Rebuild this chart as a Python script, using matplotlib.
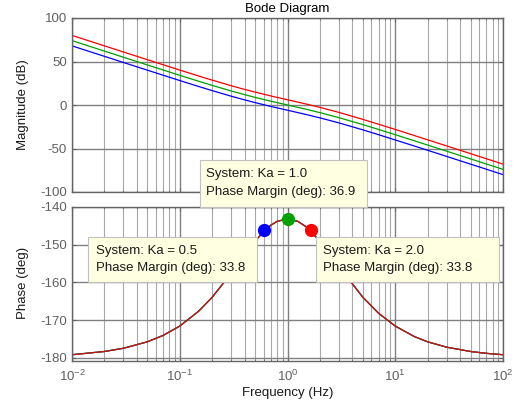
import numpy as np
import matplotlib.pyplot as plt
from matplotlib.patches import Rectangle
from matplotlib.ticker import LogLocator, NullFormatter

plt.rcParams['font.family'] = ['Liberation Sans', 'DejaVu Sans']
plt.rcParams['font.size'] = 9.5
plt.rcParams['axes.unicode_minus'] = False
plt.rcParams['mathtext.fontset'] = 'custom'
plt.rcParams['mathtext.rm'] = 'Liberation Sans'
plt.rcParams['mathtext.it'] = 'Liberation Sans:italic'

# Frequency points (Hz) and magnitude (dB)
freq = [0.01, 0.02, 0.03, 0.05, 0.07, 0.1, 0.15, 0.2, 0.3, 0.4, 0.5, 0.7,
        1.0, 1.5, 2.0, 3.0, 5.0, 7.0, 10.0, 15.0, 20.0, 30.0, 50.0, 70.0, 100.0]
mag_05 = [67.96, 55.93, 48.89, 40.04, 34.24, 28.12, 21.27, 16.52, 10.12, 5.86,
          2.75, -1.63, -6.02, -11.02, -14.79, -20.56, -28.56, -34.12, -40.16,
          -47.12, -52.08, -59.10, -67.97, -73.81, -80.0]
mag_10 = [73.98, 61.95, 54.91, 46.06, 40.26, 34.14, 27.29, 22.54, 16.14, 11.88,
          8.77, 4.39, 0.0, -5.0, -8.77, -14.54, -22.54, -28.10, -34.14,
          -41.10, -46.06, -53.08, -61.95, -67.79, -73.98]
mag_20 = [80.0, 67.97, 60.93, 52.08, 46.28, 40.16, 33.31, 28.56, 22.16, 17.90,
          14.79, 10.41, 6.02, 1.02, -2.75, -8.52, -16.52, -22.08, -28.12,
          -35.08, -40.04, -47.06, -55.93, -61.77, -67.96]

# Phase (deg), same for all three gains
phase_freq = [0.01, 0.02, 0.03, 0.05, 0.07, 0.1, 0.15, 0.2, 0.3, 0.4, 0.5, 0.6,
              0.7, 0.8, 1.0, 1.25, 1.5, 2.0, 3.0, 5.0, 7.0, 10.0, 15.0, 20.0,
              30.0, 50.0, 70.0, 100.0]
phase = [-179.14, -178.28, -177.43, -175.72, -174.03, -171.55, -167.59, -163.91,
         -157.57, -152.65, -149.04, -146.51, -144.83, -143.81, -143.13, -143.81,
         -145.31, -149.04, -155.77, -163.91, -168.14, -171.55, -174.31, -175.72,
         -177.14, -178.28, -178.77, -179.14]

# Phase margin points
pm_freq = [0.61, 1.0, 1.64]
pm_phase = [-146.2, -143.1, -146.2]
pm_gain = ['0.5', '1.0', '2.0']
pm_value = [33.8, 36.9, 33.8]

colors = ['#0000ff', '#00a000', '#ff0000']

W, H = 516, 407
fig = plt.figure(figsize=(W / 100, H / 100), dpi=100)


def px_axes(l, t, r, b):
    return fig.add_axes([l / W, 1 - b / H, (r - l) / W, (b - t) / H])


def style(ax):
    ax.set_xscale('log')
    ax.set_xlim(0.01, 100)
    ax.xaxis.set_major_locator(LogLocator(base=10, numticks=10))
    ax.xaxis.set_minor_locator(LogLocator(base=10, subs=np.arange(2, 10), numticks=20))
    ax.xaxis.set_minor_formatter(NullFormatter())
    ax.grid(True, which='major', color='#808080', lw=1.0)
    ax.grid(True, which='minor', axis='x', color='#a8a8a8', lw=0.8)
    ax.set_axisbelow(True)
    for s in ax.spines.values():
        s.set_color('#646464')
        s.set_linewidth(1.0)
    ax.tick_params(which='both', direction='in', color='#646464', labelcolor='#606060',
                   top=True, right=True)
    ax.tick_params(which='major', length=3)
    ax.tick_params(which='minor', length=1.5)
    ax.tick_params(axis='y', pad=3.6)
    ax.tick_params(axis='x', pad=5.5)


ax1 = px_axes(72, 18, 503, 192)
ax2 = px_axes(72, 207, 503, 361)

style(ax1)
for m, c in zip([mag_05, mag_10, mag_20], colors):
    ax1.plot(freq, m, color=c, lw=0.9)
ax1.set_ylim(-100, 100)
ax1.set_yticks([-100, -50, 0, 50, 100])
ax1.tick_params(axis='x', labelbottom=False)
ax1.set_ylabel('Magnitude (dB)', color='#1a1a1a', va='center')
ax1.yaxis.set_label_coords((23 - 72) / 431, 0.5)
ax1.set_title('Bode Diagram', pad=4.5, fontsize=9.5)

style(ax2)
for c in ['#0000ff', '#00a000', '#d01010']:
    ax2.plot(phase_freq, phase, color=c, lw=0.9)
for f, p, c in zip(pm_freq, pm_phase, colors):
    ax2.plot(f, p, 'o', color=c, ms=8.5, zorder=5, clip_on=False)
ax2.set_ylim(-180.8, -140)
ax2.set_yticks([-180, -170, -160, -150, -140])
ax2.set_ylabel('Phase (deg)', color='#1a1a1a', va='center')
ax2.yaxis.set_label_coords((23 - 72) / 431, (361 - 283) / 154)
ax2.set_xlabel('Frequency (Hz)', color='#1a1a1a', va='center')
ax2.xaxis.set_label_coords(0.5, (361 - 393) / 154)

# Data tip boxes (pixel positions of box and text)
boxes = [(200, 160, 367, 207, 206, 174, 192),
         (88, 237, 257, 282, 96, 251, 268),
         (316, 237, 499, 282, 323, 251, 268)]
order = [1, 0, 2]
for (l, t, r, b, tx, y1, y2), i in zip(boxes, order):
    fig.patches.append(Rectangle((l / W, 1 - b / H), (r - l) / W, (b - t) / H,
                                 transform=fig.transFigure, facecolor='#ffffe1',
                                 edgecolor='#c0c0c0', lw=0.8, zorder=6))
    fig.text(tx / W, 1 - y1 / H, 'System: Ka = ' + pm_gain[i], va='center',
             ha='left', color='#1a1a1a', zorder=7)
    fig.text(tx / W, 1 - y2 / H, 'Phase Margin (deg): %.1f' % pm_value[i],
             va='center', ha='left', color='#1a1a1a', zorder=7)

fig.savefig('out.png', dpi=100)
